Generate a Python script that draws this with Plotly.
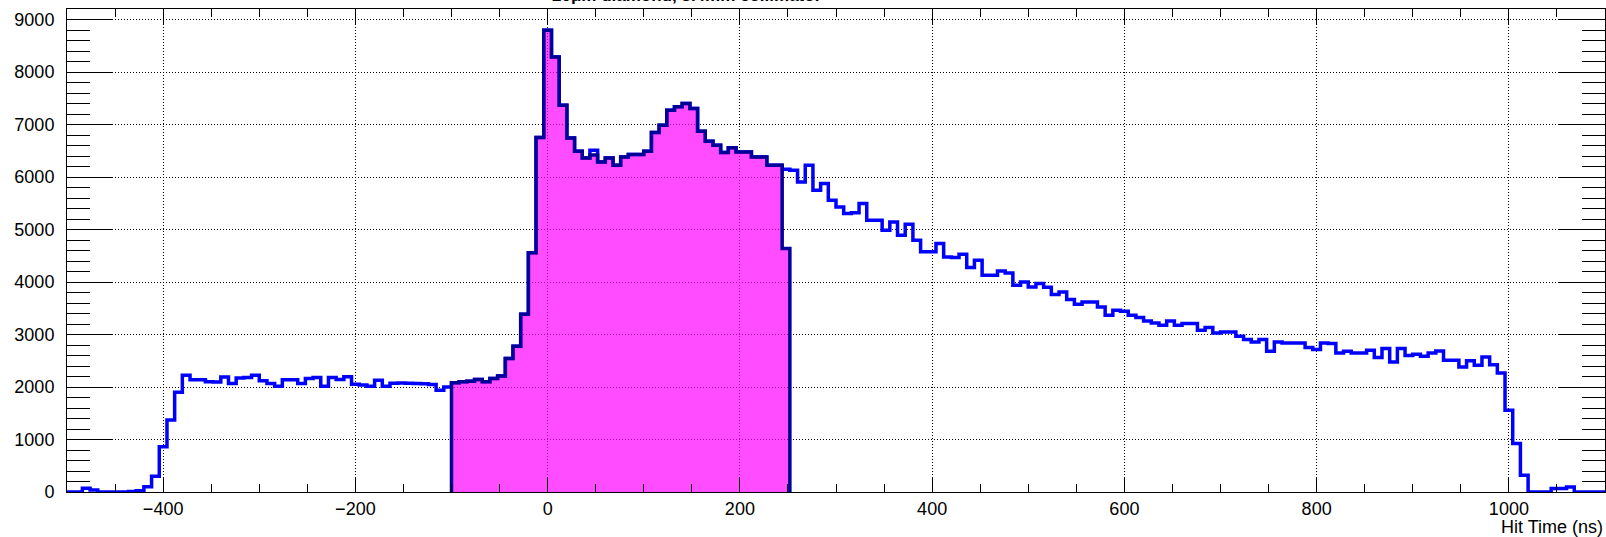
import numpy as np
import plotly.graph_objects as go

# Hit-time histogram: 200 bins of 8 ns from -500 ns to 1100 ns
t_min, t_max, bin_w = -500, 1100, 8
counts = [
    0, 0, 70, 40, 0, 0, 0, 0, 10, 25,                               # -500 .. -428
    100, 300, 860, 1370, 1900, 2225, 2140, 2140, 2100, 2097,        # -420 .. -348
    2192, 2066, 2170, 2181, 2225, 2117, 2066, 2015, 2140, 2140,     # -340 .. -268
    2066, 2162, 2181, 2015, 2181, 2143, 2194, 2053, 2040, 2015,     # -260 .. -188
    2130, 2015, 2070, 2075, 2070, 2065, 2060, 2050, 1940, 2002,     # -180 .. -108
    2080, 2100, 2110, 2143, 2100, 2162, 2210, 2543, 2777, 3387,     # -100 .. -28
    4555, 6752, 8796, 8288, 7368, 6745, 6491, 6364, 6510, 6288,     # -20 .. 52
    6364, 6225, 6380, 6428, 6428, 6491, 6847, 6987, 7272, 7336,     # 60 .. 132
    7400, 7305, 6872, 6682, 6606, 6466, 6555, 6478, 6478, 6380,     # 140 .. 212
    6380, 6225, 6225, 6150, 6130, 5907, 6225, 5749, 5876, 5558,     # 220 .. 292
    5430, 5305, 5318, 5495, 5177, 5177, 4987, 5145, 4891, 5101,     # 300 .. 372
    4796, 4574, 4574, 4733, 4478, 4465, 4530, 4276, 4415, 4130,     # 380 .. 452
    4130, 4211, 4173, 3939, 4002, 3907, 3970, 3900, 3760, 3811,     # 460 .. 532
    3667, 3577, 3621, 3621, 3526, 3368, 3463, 3444, 3368, 3324,     # 540 .. 612
    3259, 3220, 3177, 3259, 3177, 3209, 3209, 3082, 3133, 3030,     # 620 .. 692
    3050, 3050, 2968, 2905, 2859, 2905, 2682, 2859, 2840, 2840,     # 700 .. 772
    2840, 2752, 2714, 2840, 2828, 2650, 2682, 2650, 2650, 2701,     # 780 .. 852
    2562, 2733, 2478, 2733, 2600, 2625, 2587, 2650, 2688, 2510,     # 860 .. 932
    2510, 2383, 2498, 2415, 2573, 2425, 2268, 1558, 924, 320,       # 940 .. 1012
    0, 0, 0, 67, 67, 97, 0, 0, 0, 0,                                # 1020 .. 1092
]

# Hits inside the selected time window (-100 ns .. 252 ns)
win_start = -100
win_counts = [
    2080, 2100, 2110, 2143, 2100, 2162, 2210, 2543, 2777, 3387,
    4555, 6752, 8796, 8288, 7368, 6745, 6491, 6364, 6420, 6288,
    6364, 6225, 6380, 6428, 6428, 6491, 6847, 6987, 7272, 7336,
    7400, 7305, 6872, 6682, 6606, 6466, 6555, 6478, 6478, 6380,
    6380, 6225, 6225, 4640,
]

title_text = "<b>20μm diamond, 3.4mm collimator</b>"
x_title = "Hit Time (ns)"
x_ticks = [-400, -200, 0, 200, 400, 600, 800, 1000]
y_ticks = [0, 1000, 2000, 3000, 4000, 5000, 6000, 7000, 8000, 9000]
y_max = 9200


def step_xy(start, values, width):
    """Outline of a histogram as 'hv' step points, closed down to zero."""
    edges = start + width * np.arange(len(values) + 1)
    xs = np.concatenate([[edges[0]], edges, [edges[-1]]])
    ys = np.concatenate([[0], values, [values[-1]], [0]])
    return xs, ys


hx, hy = step_xy(t_min, np.array(counts, float), bin_w)
wx, wy = step_xy(win_start, np.array(win_counts, float), bin_w)

fig = go.Figure()
fig.add_trace(go.Scatter(
    x=hx, y=hy, mode="lines", line=dict(shape="hv", color="#0000ff", width=3.5),
    hoverinfo="skip",
))
fig.add_trace(go.Scatter(
    x=wx, y=wy, mode="lines", line=dict(shape="hv", color="#000099", width=3.5),
    fill="tozeroy", fillcolor="rgba(255,0,255,0.7)", hoverinfo="skip",
))

font_family = "Liberation Sans, Arial, Helvetica, sans-serif"
axis_common = dict(
    showline=True, linecolor="black", linewidth=1, mirror="ticks",
    ticks="inside", tickcolor="black", tickwidth=1,
    showgrid=True, gridcolor="black", gridwidth=1.2, griddash="1px,2px",
    zeroline=False,
    tickfont=dict(family=font_family, size=18, color="black"),
)

fig.update_xaxes(
    range=[t_min, t_max], tickvals=x_ticks, ticklen=15,
    minor=dict(ticks="inside", dtick=50, tick0=0, ticklen=8,
               tickcolor="black", showgrid=False),
    ticklabelstandoff=0,
    **axis_common,
)
fig.update_yaxes(
    range=[0, y_max], tickvals=y_ticks, ticklen=46,
    minor=dict(ticks="inside", dtick=200, tick0=0, ticklen=23,
               tickcolor="black", showgrid=False),
    ticklabelstandoff=8,
    **axis_common,
)

fig.add_annotation(
    text=x_title, xref="paper", yref="paper", x=1, y=-0.072,
    xanchor="right", yanchor="middle", showarrow=False,
    font=dict(family=font_family, size=18, color="black"),
)
fig.add_annotation(
    text=title_text, xref="paper", yref="paper", x=0.403, y=1.004,
    xanchor="center", yanchor="bottom", showarrow=False,
    font=dict(family=font_family, size=17, color="black"),
)

fig.update_layout(
    width=1606, height=537,
    margin=dict(l=67, r=1, t=9, b=45),
    paper_bgcolor="white", plot_bgcolor="white",
    showlegend=False,
)

fig.write_html("out.html")
